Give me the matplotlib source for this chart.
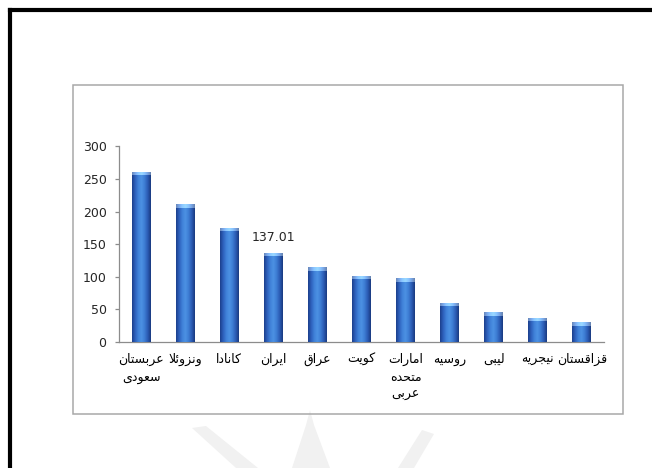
import numpy as np
import matplotlib
matplotlib.use('Agg')
import matplotlib.pyplot as plt
from matplotlib.patches import Rectangle, Polygon
from matplotlib.lines import Line2D

# داده‌ها (ذخایر نفت، میلیارد بشکه)
countries = ['عربستان\nسعودی', 'ونزوئلا', 'کانادا', 'ایران', 'عراق', 'کویت',
             'امارات\nمتحده\nعربی', 'روسیه', 'لیبی', 'نیجریه', 'قزاقستان']
reserves = [261, 211, 175, 137.01, 115, 102, 98, 60, 46, 37, 30]
label_index = 3  # only Iran carries a data label
y_ticks = [0, 50, 100, 150, 200, 250, 300]

W, H = 652, 468

# --- minimal Persian shaping (matplotlib has no complex text layout) ---
FORMS = {  # isolated, final, initial, medial
    'ا': (0xFE8D, 0xFE8E), 'د': (0xFEA9, 0xFEAA), 'ر': (0xFEAD, 0xFEAE),
    'ز': (0xFEAF, 0xFEB0), 'و': (0xFEED, 0xFEEE),
    'ب': (0xFE8F, 0xFE90, 0xFE91, 0xFE92), 'ت': (0xFE95, 0xFE96, 0xFE97, 0xFE98),
    'ج': (0xFE9D, 0xFE9E, 0xFE9F, 0xFEA0), 'ح': (0xFEA1, 0xFEA2, 0xFEA3, 0xFEA4),
    'س': (0xFEB1, 0xFEB2, 0xFEB3, 0xFEB4), 'ع': (0xFEC9, 0xFECA, 0xFECB, 0xFECC),
    'ق': (0xFED5, 0xFED6, 0xFED7, 0xFED8), 'ل': (0xFEDD, 0xFEDE, 0xFEDF, 0xFEE0),
    'م': (0xFEE1, 0xFEE2, 0xFEE3, 0xFEE4), 'ن': (0xFEE5, 0xFEE6, 0xFEE7, 0xFEE8),
    'ه': (0xFEE9, 0xFEEA, 0xFEEB, 0xFEEC), 'ئ': (0xFE89, 0xFE8A, 0xFE8B, 0xFE8C),
    'ک': (0xFB8E, 0xFB8F, 0xFB90, 0xFB91), 'ی': (0xFBFC, 0xFBFD, 0xFBFE, 0xFBFF),
}


def dual(c):
    return c in FORMS and len(FORMS[c]) == 4


def shape_line(s):
    out = []
    i = 0
    while i < len(s):
        c = s[i]
        prev = s[i - 1] if i > 0 else ''
        joins_prev = dual(prev) and c in FORMS
        if c == 'ل' and i + 1 < len(s) and s[i + 1] == 'ا':
            out.append(chr(0xFEFC if joins_prev else 0xFEFB))
            i += 2
            continue
        if c not in FORMS:
            out.append(c)
            i += 1
            continue
        nxt = s[i + 1] if i + 1 < len(s) else ''
        joins_next = dual(c) and nxt in FORMS
        f = FORMS[c]
        if joins_prev and joins_next:
            out.append(chr(f[3]))
        elif joins_prev:
            out.append(chr(f[1]))
        elif joins_next:
            out.append(chr(f[2]))
        else:
            out.append(chr(f[0]))
        i += 1
    return ''.join(reversed(out))


def shape(s):
    return '\n'.join(shape_line(l) for l in s.split('\n'))


def fx(px):
    return px / W


def fy(py):
    return 1 - py / H


fig = plt.figure(figsize=(6.52, 4.68), dpi=100)
fig.patch.set_facecolor('white')

# faint watermark at the bottom of the page
wm = '#f1f1f1'
for pts in ([(292, 468), (306, 425), (310, 410), (314, 425), (330, 468)],
            [(192, 428), (206, 426), (258, 468), (236, 468)],
            [(422, 430), (434, 434), (414, 468), (398, 468)]):
    fig.patches.append(Polygon([(fx(a), fy(b)) for a, b in pts], closed=True,
                               transform=fig.transFigure, facecolor=wm,
                               edgecolor='none', zorder=0))

# page border and chart box
fig.add_artist(Line2D([fx(10), fx(10)], [fy(10), fy(470)], color='black', lw=3,
                      transform=fig.transFigure, solid_capstyle='projecting'))
fig.add_artist(Line2D([fx(10), fx(655)], [fy(10), fy(10)], color='black', lw=3,
                      transform=fig.transFigure, solid_capstyle='projecting'))
fig.patches.append(Rectangle((fx(73), fy(414)), fx(623) - fx(73), fy(85) - fy(414),
                             transform=fig.transFigure, facecolor='none',
                             edgecolor='#a8a8a8', lw=1.1))

ax = fig.add_axes([fx(119), fy(342), fx(604) - fx(119), fy(146.5) - fy(342)])
ax.set_facecolor('none')

x = np.arange(len(reserves))
bar_w = 0.43
bars = ax.bar(x, reserves, width=bar_w, color='#2e67c0', zorder=2)

ax.set_xlim(-0.5, len(reserves) - 0.5)
ax.set_ylim(0, 300)

# cylinder-like shading inside each bar
cols = np.array([[0.11, 0.25, 0.55], [0.18, 0.38, 0.74], [0.25, 0.51, 0.85],
                 [0.30, 0.57, 0.89], [0.24, 0.49, 0.83], [0.17, 0.36, 0.71],
                 [0.10, 0.23, 0.50]])
t = np.linspace(0, 1, 60)
ct = np.linspace(0, 1, len(cols))
grad = np.stack([np.interp(t, ct, cols[:, k]) for k in range(3)], axis=-1)[None, :, :]
cap = np.clip(grad + np.array([0.30, 0.28, 0.18]), 0, 1)
px_per_unit = (342 - 146.5) / 300.0
cap_h = 3.5 / px_per_unit
for b in bars:
    x0, w, h = b.get_x(), b.get_width(), b.get_height()
    im = ax.imshow(grad, extent=(x0, x0 + w, 0, h), aspect='auto', zorder=3,
                   interpolation='bilinear')
    im.set_clip_path(b)
    im2 = ax.imshow(cap, extent=(x0, x0 + w, h - cap_h, h), aspect='auto', zorder=4,
                    interpolation='bilinear')
    im2.set_clip_path(b)

ax.annotate(f'{reserves[label_index]:.2f}', (x[label_index], reserves[label_index]),
            xytext=(0, 15), textcoords='offset pixels', ha='center', va='center',
            fontsize=9, color='#262626')

for s in ('top', 'right'):
    ax.spines[s].set_visible(False)
for s in ('left', 'bottom'):
    ax.spines[s].set_color('#8c8c8c')
    ax.spines[s].set_linewidth(0.9)

ax.set_yticks(y_ticks)
ax.tick_params(axis='y', length=3, width=0.9, color='#8c8c8c', labelsize=9,
               labelcolor='#262626', pad=6)
ax.set_xticks(x)
ax.set_xticklabels([shape(c) for c in countries], fontsize=9, color='black',
                   linespacing=1.45, multialignment='center',
                   family=['DejaVu Sans'])
ax.tick_params(axis='x', length=0, pad=8)

fig.savefig('out.png', dpi=100, facecolor='white')
